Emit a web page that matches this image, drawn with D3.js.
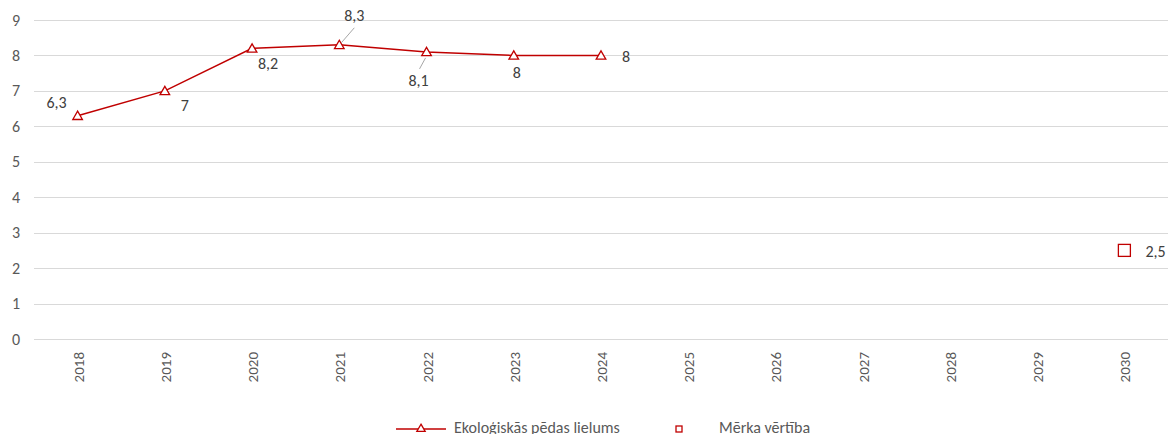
<!DOCTYPE html>
<html>
<head>
<meta charset="utf-8">
<script src="https://cdn.jsdelivr.net/npm/d3@7"></script>
<style>
  body { margin: 0; background: #fff; }
  text { font-family: Carlito, Calibri, Lato, sans-serif; }
</style>
</head>
<body>
<svg id="chart"></svg>
<script>
const YEARS = ["2018","2019","2020","2021","2022","2023","2024","2025","2026","2027","2028","2029","2030"];
const FOOTPRINT = [6.3, 7, 8.2, 8.3, 8.1, 8, 8];
const TARGET_YEAR = ["2030"];
const TARGET = [2.5];
const Y_TICKS = [0,1,2,3,4,5,6,7,8,9];
const SERIES_NAMES = ["Ekoloģiskās pēdas lielums", "Mērka vērtība"];
// label placement: dx, dy relative to point, and optional leader line
const LABEL_POS = [
  {dx: -21, dy: -13},
  {dx: 20, dy: 15},
  {dx: 16, dy: 15},
  {dx: 15, dy: -29, leader: true},
  {dx: -8, dy: 28, leader: true},
  {dx: 3, dy: 17},
  {dx: 25, dy: 1}
];

var width = 1168, height = 434;
var margin = {top: 20, right: 0, bottom: 95, left: 34};

var svg = d3.select("#chart")
  .attr("width", width)
  .attr("height", height);

var x = d3.scaleBand()
  .domain(YEARS)
  .range([margin.left, width - margin.right]);

var y = d3.scaleLinear()
  .domain([0, 9])
  .range([height - margin.bottom, margin.top]);

var cx = function(d) { return x(d) + x.bandwidth() / 2; };

/********* GRID + Y AXIS ***********/
svg.append("g")
  .selectAll("line")
  .data(Y_TICKS)
  .enter()
  .append("line")
    .attr("x1", margin.left)
    .attr("x2", width - margin.right)
    .attr("y1", function(d) { return Math.round(y(d)) + 0.5; })
    .attr("y2", function(d) { return Math.round(y(d)) + 0.5; })
    .attr("stroke", "#d9d9d9")
    .attr("stroke-width", 1);

svg.append("g")
  .selectAll("text")
  .data(Y_TICKS)
  .enter()
  .append("text")
    .attr("x", 20)
    .attr("y", function(d) { return y(d); })
    .attr("dy", "0.35em")
    .attr("text-anchor", "end")
    .attr("fill", "#595959")
    .style("font-size", "16px")
    .text(function(d) { return d; });

/********* X AXIS LABELS ***********/
svg.append("g")
  .selectAll("text")
  .data(YEARS)
  .enter()
  .append("text")
    .attr("transform", function(d) {
      return "translate(" + (cx(d) + 6) + "," + (height - margin.bottom + 13) + ") rotate(-90)";
    })
    .attr("text-anchor", "end")
    .attr("fill", "#595959")
    .style("font-size", "15px")
    .text(function(d) { return d; });

/********* LINE SERIES ***********/
var red = "#c00000";
var tri = d3.symbol().type(d3.symbolTriangle).size(40);

var pts = FOOTPRINT.map(function(v, i) { return {year: YEARS[i], value: v}; });

svg.append("path")
  .datum(pts)
  .attr("d", d3.line()
    .x(function(d) { return cx(d.year); })
    .y(function(d) { return y(d.value); }))
  .attr("fill", "none")
  .attr("stroke", red)
  .attr("stroke-width", 1.5);

svg.append("g")
  .selectAll("path")
  .data(pts)
  .enter()
  .append("path")
    .attr("d", tri)
    .attr("transform", function(d) { return "translate(" + cx(d.year) + "," + (y(d.value) + 1) + ")"; })
    .attr("fill", "#fff")
    .attr("stroke", red)
    .attr("stroke-width", 1.3);

// leader lines
svg.append("g")
  .selectAll("line")
  .data(pts.filter(function(d, i) { return LABEL_POS[i].leader; }))
  .enter()
  .append("line")
    .attr("x1", function(d) {
      var p = LABEL_POS[FOOTPRINT.indexOf(d.value)];
      return cx(d.year) + (p.dy < 0 ? 2 : -1);
    })
    .attr("y1", function(d) {
      var p = LABEL_POS[FOOTPRINT.indexOf(d.value)];
      return y(d.value) + (p.dy < 0 ? -2 : 6);
    })
    .attr("x2", function(d) {
      var p = LABEL_POS[FOOTPRINT.indexOf(d.value)];
      return cx(d.year) + (p.dy < 0 ? 15 : -7);
    })
    .attr("y2", function(d) {
      var p = LABEL_POS[FOOTPRINT.indexOf(d.value)];
      return y(d.value) + (p.dy < 0 ? -17 : 17);
    })
    .attr("stroke", "#a6a6a6")
    .attr("stroke-width", 1);

svg.append("g")
  .selectAll("text")
  .data(pts)
  .enter()
  .append("text")
    .attr("x", function(d, i) { return cx(d.year) + LABEL_POS[i].dx; })
    .attr("y", function(d, i) { return y(d.value) + LABEL_POS[i].dy; })
    .attr("dy", "0.35em")
    .attr("text-anchor", "middle")
    .attr("fill", "#404040")
    .style("font-size", "16px")
    .text(function(d) { return String(d.value).replace(".", ","); });

/********* TARGET ***********/
var tgt = TARGET.map(function(v, i) { return {year: TARGET_YEAR[i], value: v}; });

svg.append("g")
  .selectAll("rect")
  .data(tgt)
  .enter()
  .append("rect")
    .attr("x", function(d) { return cx(d.year) - 6; })
    .attr("y", function(d) { return y(d.value) - 6; })
    .attr("width", 12)
    .attr("height", 12)
    .attr("fill", "#fff")
    .attr("stroke", red)
    .attr("stroke-width", 1.3);

svg.append("g")
  .selectAll("text")
  .data(tgt)
  .enter()
  .append("text")
    .attr("x", function(d) { return cx(d.year) + 21; })
    .attr("y", function(d) { return y(d.value) + 1; })
    .attr("dy", "0.35em")
    .attr("fill", "#404040")
    .style("font-size", "16px")
    .text(function(d) { return String(d.value).replace(".", ","); });

/********* LEGEND ***********/
var legY = 429;
var leg = svg.append("g");
leg.append("line")
  .attr("x1", 396).attr("x2", 446)
  .attr("y1", legY).attr("y2", legY)
  .attr("stroke", red).attr("stroke-width", 1.5);
leg.append("path")
  .attr("d", d3.symbol().type(d3.symbolTriangle).size(30))
  .attr("transform", "translate(421," + (legY) + ")")
  .attr("fill", "#fff").attr("stroke", red).attr("stroke-width", 1.3);
leg.append("text")
  .attr("x", 454).attr("y", legY - 2)
  .attr("dy", "0.35em")
  .attr("fill", "#595959")
  .style("font-size", "16px")
  .text(SERIES_NAMES[0]);
leg.append("rect")
  .attr("x", 676).attr("y", legY - 3)
  .attr("width", 6).attr("height", 6)
  .attr("fill", "#fff").attr("stroke", red).attr("stroke-width", 1.3);
leg.append("text")
  .attr("x", 719).attr("y", legY - 2)
  .attr("dy", "0.35em")
  .attr("fill", "#595959")
  .style("font-size", "16px")
  .text(SERIES_NAMES[1]);
</script>
</body>
</html>
